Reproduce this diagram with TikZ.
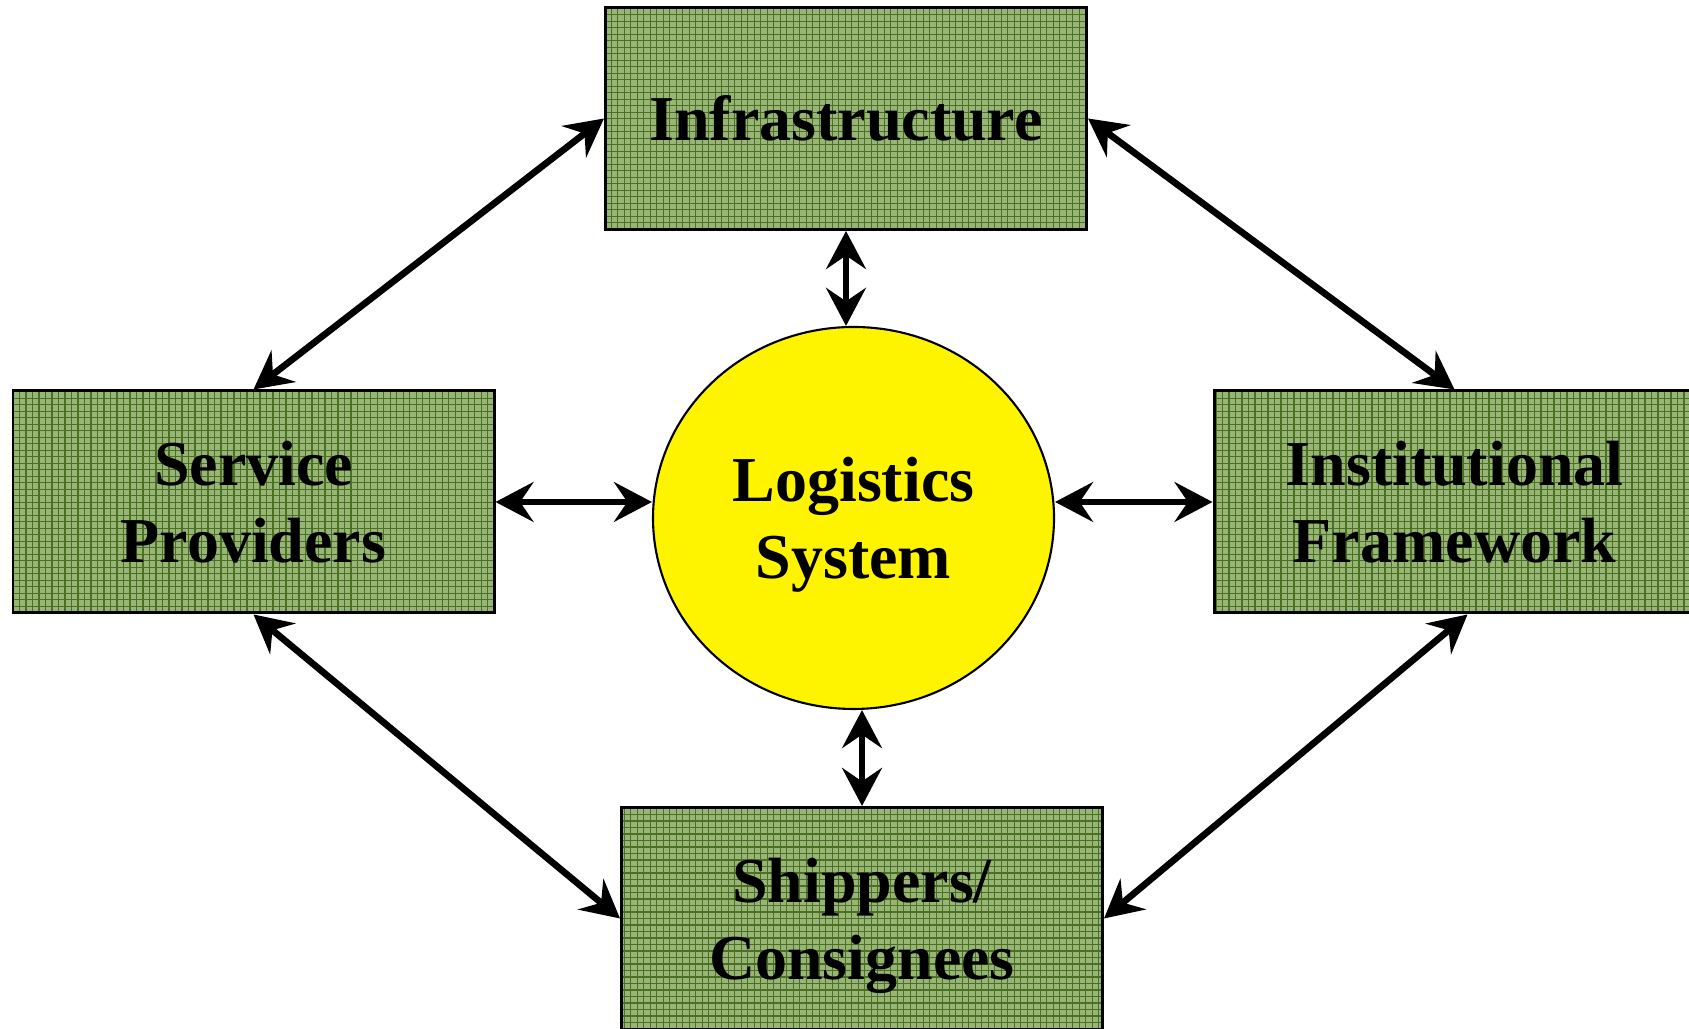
\documentclass[tikz,border=0pt]{standalone}
\usepackage{xcolor}
\usepackage{fontspec}
\setmainfont{Liberation Serif}
\usepackage{tikz}
\usetikzlibrary{arrows.meta,patterns,shapes.geometric}

\definecolor{boxgreen}{RGB}{152,180,118}
\definecolor{gridgreen}{RGB}{74,112,34}
\definecolor{sunyellow}{RGB}{255,244,0}

% fine square mesh for the boxes
\pgfdeclarepatternformonly{boxgrid}{\pgfqpoint{-0.5pt}{-0.5pt}}{\pgfqpoint{2.4pt}{2.4pt}}{\pgfqpoint{1.85pt}{1.85pt}}{
  \pgfsetlinewidth{0.35pt}
  \pgfpathmoveto{\pgfqpoint{0pt}{0pt}}
  \pgfpathlineto{\pgfqpoint{1.95pt}{0pt}}
  \pgfpathmoveto{\pgfqpoint{0pt}{0pt}}
  \pgfpathlineto{\pgfqpoint{0pt}{1.95pt}}
  \pgfusepath{stroke}}

\tikzset{
  block/.style={draw=black, line width=0.85pt, pattern=boxgrid, pattern color=gridgreen,
    preaction={fill=boxgreen}, minimum width=4.81cm, minimum height=2.22cm,
    align=center, text depth=0pt, font=\bfseries\fontsize{18.2}{22}\selectfont},
  hub/.style={ellipse, draw=black, line width=0.6pt, fill=sunyellow,
    minimum width=4.01cm, minimum height=3.82cm, align=center, text depth=0pt,
    font=\bfseries\fontsize{18.2}{22}\selectfont},
  link/.style={line width=1.9pt,
    {Stealth[length=10.8pt,width=11.3pt,inset=3.8pt]}-{Stealth[length=10.8pt,width=11.3pt,inset=3.8pt]}}
}

\begin{document}
\begin{tikzpicture}
\useasboundingbox (0,0) rectangle (16.89,10.29);
\begin{scope}
\clip (0,0) rectangle (16.89,10.29);
\node[block] (infra) at (8.46,9.105) {Infrastructure};
\node[block] (service) at (2.535,5.27) {Service\\Providers};
\node[block] (inst) at (14.545,5.27) {Institutional\\Framework};
\node[block] (ship) at (8.62,1.105) {Shippers/\\Consignees};
\node[hub] (logi) at (8.535,5.11) {Logistics\\System};
\end{scope}

% links to the centre
\draw[link] (infra.south) -- (infra.south |- logi.north);
\draw[link] (ship.north) -- (ship.north |- logi.south);
\draw[link] (service.east) -- (service.east -| logi.west);
\draw[link] (inst.west) -- (inst.west -| logi.east);

% links round the outside
\draw[link] (infra.west) -- (service.north);
\draw[link] (infra.east) -- (inst.north);
\draw[link] (service.south) -- (ship.west);
\draw[link] ([xshift=0.13cm]inst.south) -- (ship.east);
\end{tikzpicture}
\end{document}
